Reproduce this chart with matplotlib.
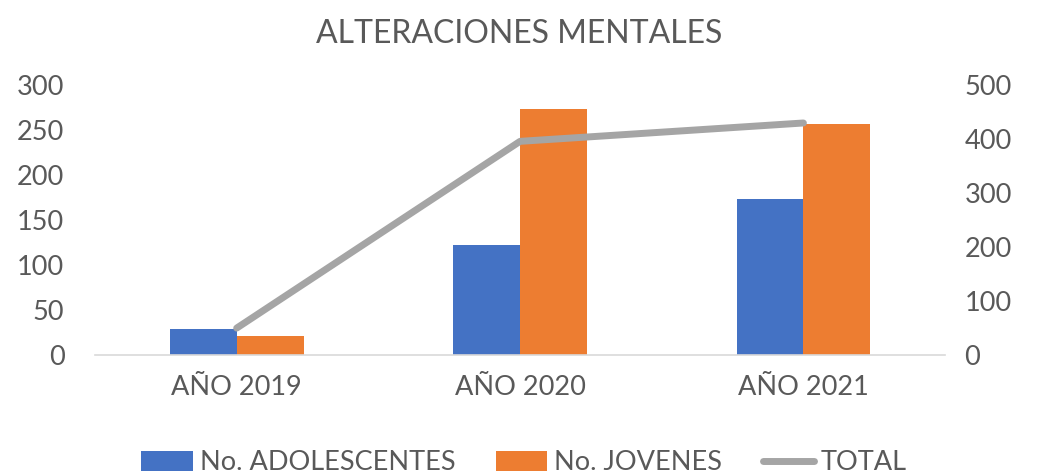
import numpy as np
import matplotlib.pyplot as plt

categories = ["AÑO 2019", "AÑO 2020", "AÑO 2021"]
adolescentes = [29, 122, 173]
jovenes = [21, 274, 257]
total = [50, 396, 430]

plt.rcParams['font.family'] = ['Lato', 'DejaVu Sans']
txt = '#595959'

fig = plt.figure(figsize=(10.38, 4.76), dpi=100)
ax = fig.add_axes([0.0915, 0.254, 0.819, 0.567])
x = np.arange(len(categories))
w = 0.236
ax.bar(x - w / 2, adolescentes, w, color='#4472C4', label='No. ADOLESCENTES')
ax.bar(x + w / 2, jovenes, w, color='#ED7D31', label='No. JOVENES')
ax.set_xlim(-0.5, 2.5)
ax.set_ylim(0, 300)
ax.set_yticks(range(0, 301, 50))
ax.set_xticks(x)
ax.set_xticklabels(categories)

ax2 = ax.twinx()
ax2.plot(x, total, color='#A5A5A5', lw=5, solid_capstyle='round', label='TOTAL')
ax2.set_ylim(0, 500)
ax2.set_yticks(range(0, 501, 100))

for a in (ax, ax2):
    for s in a.spines.values():
        s.set_visible(False)
    a.tick_params(length=0, labelsize=19.5, colors=txt, pad=10)
ax.spines['bottom'].set_visible(True)
ax.spines['bottom'].set_color('#D9D9D9')
ax.spines['bottom'].set_linewidth(1.2)
ax.tick_params(axis='x', pad=14)
ax2.tick_params(axis='y', pad=14)
ax.tick_params(axis='y', pad=22)

fig.suptitle('ALTERACIONES MENTALES', y=0.96, fontsize=23, color=txt)

h1, l1 = ax.get_legend_handles_labels()
h2, l2 = ax2.get_legend_handles_labels()
fig.legend(h1 + h2, l1 + l2, loc='lower center', bbox_to_anchor=(0.505, -0.05),
           ncol=3, frameon=False, fontsize=19.5, labelcolor=txt,
           handlelength=1.9, handleheight=0.75, handletextpad=0.25, columnspacing=1.5)

fig.savefig('out.png', dpi=100)
